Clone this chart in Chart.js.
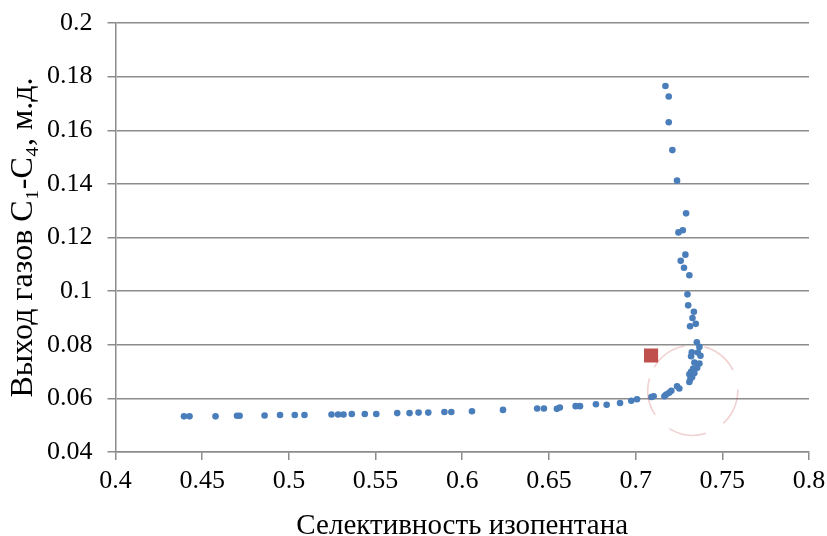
<!DOCTYPE html>
<html>
<head>
<meta charset="utf-8">
<script src="https://cdn.jsdelivr.net/npm/chart.js@4"></script>
<style>
	html, body { margin: 0; padding: 0; background: #fff; }
	#wrap { width: 827px; height: 536px; }
</style>
</head>
<body>
<div id="wrap"><canvas id="chart"></canvas></div>
<script>
	// main series: selectivity vs gas yield
	var selX = [
		0.4395, 0.4427, 0.4577, 0.4701, 0.4716, 0.4860, 0.4949, 0.5034, 0.5090, 0.5246,
		0.5284, 0.5315, 0.5363, 0.5438, 0.5504, 0.5625, 0.5696, 0.5748, 0.5804, 0.5897,
		0.5937, 0.6056, 0.6235, 0.6432, 0.6471, 0.6546, 0.6563, 0.6654, 0.6679, 0.6771,
		0.6833, 0.6910, 0.6975, 0.7008, 0.7091, 0.7104, 0.7166, 0.7176, 0.7193, 0.7206,
		0.7239, 0.7252, 0.7310, 0.7326, 0.7316, 0.7339, 0.7310, 0.7320, 0.7355, 0.7332,
		0.7368, 0.7339, 0.7374, 0.7320, 0.7359, 0.7324, 0.7368, 0.7353, 0.7314, 0.7347,
		0.7328, 0.7336, 0.7303, 0.7299, 0.7310, 0.7279, 0.7260, 0.7287, 0.7247, 0.7272,
		0.7291, 0.7239, 0.7212, 0.7191, 0.7191, 0.7172
	];
	var gasY = [
		0.0533, 0.0533, 0.0533, 0.0535, 0.0535, 0.0536, 0.0538, 0.0538, 0.0538, 0.0540,
		0.0540, 0.0540, 0.0542, 0.0542, 0.0542, 0.0545, 0.0545, 0.0547, 0.0547, 0.0549,
		0.0549, 0.0552, 0.0557, 0.0562, 0.0562, 0.0561, 0.0566, 0.0571, 0.0571, 0.0578,
		0.0576, 0.0583, 0.0591, 0.0597, 0.0605, 0.0608, 0.0608, 0.0614, 0.0621, 0.0628,
		0.0645, 0.0637, 0.0661, 0.0680, 0.0672, 0.0695, 0.0690, 0.0699, 0.0714, 0.0711,
		0.0730, 0.0734, 0.0759, 0.0757, 0.0771, 0.0772, 0.0792, 0.0809, 0.0869, 0.0878,
		0.0900, 0.0923, 0.0947, 0.0988, 0.1059, 0.1087, 0.1113, 0.1136, 0.1219, 0.1227,
		0.1290, 0.1412, 0.1526, 0.1630, 0.1726, 0.1765
	];

	// separate marked point
	var markX = [0.7089];
	var markY = [0.0760];

	// highlighted region (circle centre)
	var ringX = 0.733;
	var ringY = 0.063;

	var xMin = 0.4, xMax = 0.8, xStep = 0.05;
	var yMin = 0.04, yMax = 0.2, yStep = 0.02;

	var xTitle = 'Селективность изопентана';
	var yTitle = 'Выход газов C₁-C₄, м.д.';

	var mainPoints = selX.map(function (x, i) { return { x: x, y: gasY[i] }; });
	var markPoints = markX.map(function (x, i) { return { x: x, y: markY[i] }; });

	var serif = "'Liberation Serif', 'Times New Roman', serif";

	var ringPlugin = {
		id: 'ring',
		afterDatasetsDraw: function (chart) {
			var ctx = chart.ctx;
			var px = chart.scales.x.getPixelForValue(ringX);
			var py = chart.scales.y.getPixelForValue(ringY);
			ctx.save();
			ctx.strokeStyle = 'rgba(200, 70, 70, 0.25)';
			ctx.lineWidth = 1.6;
			ctx.setLineDash([38, 20]);
			ctx.beginPath();
			ctx.arc(px, py, 45, -2.6, -2.6 + Math.PI * 2);
			ctx.stroke();
			ctx.restore();
		}
	};

	new Chart(document.getElementById('chart'), {
		type: 'scatter',
		data: {
			datasets: [{
				data: markPoints,
				pointStyle: 'rect',
				pointRadius: 10,
				backgroundColor: '#C0504D',
				borderColor: '#C0504D',
				borderWidth: 0
			}, {
				data: mainPoints,
				pointRadius: 3.3,
				backgroundColor: '#4A7EBB',
				borderColor: '#4A7EBB',
				borderWidth: 0
			}]
		},
		options: {
			responsive: true,
			maintainAspectRatio: false,
			animation: false,
			layout: {
				padding: { top: 23, right: 18, bottom: 0, left: 0 }
			},
			plugins: {
				legend: { display: false },
				tooltip: { enabled: false }
			},
			scales: {
				x: {
					type: 'linear',
					min: xMin,
					max: xMax,
					afterFit: function (scale) {
						scale.height = 84;
						scale.paddingLeft = 0;
						scale.paddingRight = 0;
					},
					ticks: {
						stepSize: xStep,
						color: '#000',
						font: { family: serif, size: 26 },
						padding: 6,
						maxRotation: 0,
						callback: function (v) { return +v.toFixed(2); }
					},
					grid: {
						drawOnChartArea: false,
						drawTicks: true,
						tickLength: 8,
						color: '#8C8C8C',
						lineWidth: 1.5
					},
					border: { color: '#8C8C8C', width: 1.5 },
					title: {
						display: true,
						text: xTitle,
						color: '#000',
						font: { family: serif, size: 29 },
						padding: { top: 0, bottom: -8 }
					}
				},
				y: {
					type: 'linear',
					min: yMin,
					max: yMax,
					afterFit: function (scale) {
						scale.width = 115.5;
						scale.paddingTop = 0;
						scale.paddingBottom = 0;
					},
					ticks: {
						stepSize: yStep,
						color: '#000',
						font: { family: serif, size: 26 },
						padding: 15,
						callback: function (v) { return +v.toFixed(2); }
					},
					grid: {
						color: '#8C8C8C',
						lineWidth: 1.5,
						tickLength: 8
					},
					border: { color: '#8C8C8C', width: 1.5 },
					title: {
						display: true,
						text: yTitle,
						color: '#000',
						font: { family: serif, size: 32 },
						padding: { top: 4, bottom: 0 }
					}
				}
			}
		},
		plugins: [ringPlugin]
	});
</script>
</body>
</html>
